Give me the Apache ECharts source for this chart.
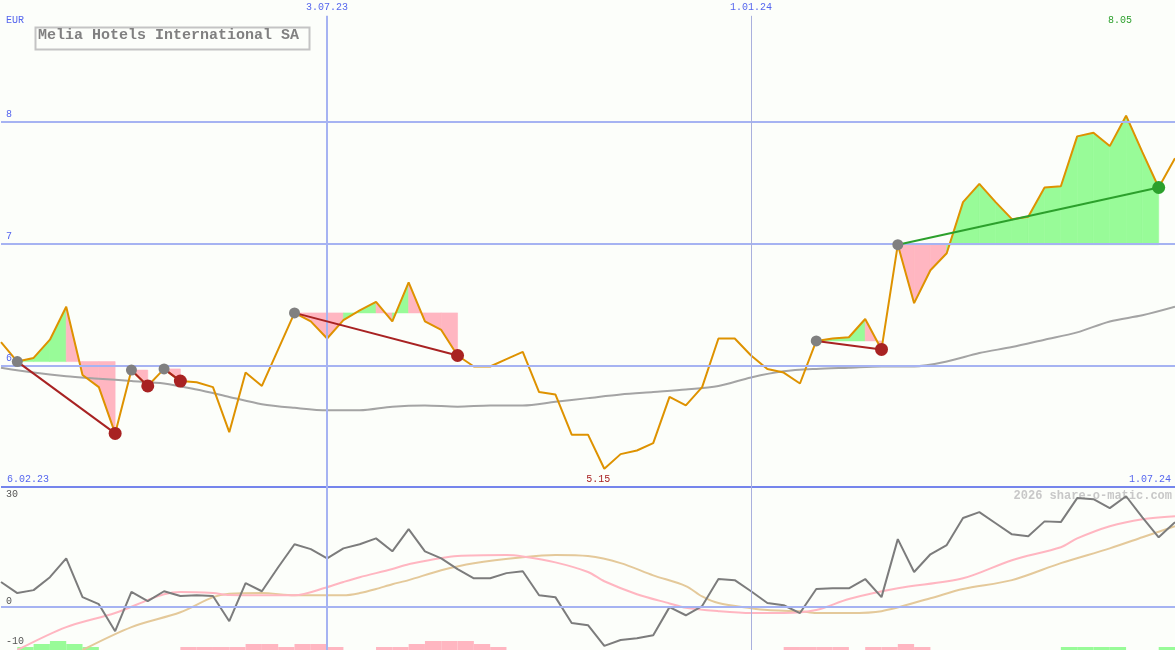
<!DOCTYPE html>
<html><head><meta charset="utf-8">
<script src="https://cdn.jsdelivr.net/npm/echarts@6/dist/echarts.min.js"></script>
<style>html,body{margin:0;padding:0;background:#fcfefa}#c{width:1175px;height:650px}</style>
</head><body><div id="c"></div>
<script>
// ---------- DATA ----------
const title = 'Melia Hotels International SA';
const currency = 'EUR';
const watermark = '2026 share-o-matic.com';
const startLabel = '6.02.23';
const endLabel = '1.07.24';
const dateMarkIdx = [20, 46];
const dateMarkLabels = ['3.07.23', '1.01.24'];
const priceTicks = [6, 7, 8];
const oscTicks = [30, 0, -10];

// weekly closes (index 0 .. 72)
const price = [6.19, 6.03, 6.06, 6.21, 6.48, 5.92, 5.82, 5.44, 5.96, 5.83,
  5.97, 5.87, 5.86, 5.82, 5.45, 5.94, 5.83, 6.13, 6.43, 6.36,
  6.22, 6.37, 6.45, 6.52, 6.36, 6.68, 6.36, 6.29, 6.08, 5.99,
  5.99, 6.05, 6.11, 5.78, 5.76, 5.43, 5.43, 5.15, 5.27, 5.30,
  5.36, 5.74, 5.67, 5.82, 6.22, 6.22, 6.08, 5.97, 5.94, 5.85,
  6.20, 6.22, 6.23, 6.38, 6.13, 6.99, 6.51, 6.78, 6.92, 7.34,
  7.49, 7.34, 7.20, 7.22, 7.46, 7.47, 7.88, 7.91, 7.80, 8.05,
  7.75, 7.46, 7.70];

// long moving average [index, value]
const priceMA = [[0, 5.98], [2, 5.94], [4, 5.91], [6, 5.89], [8, 5.87], [10, 5.85], [12, 5.80],
  [14, 5.74], [16, 5.68], [18, 5.65], [20, 5.63], [22, 5.63], [24, 5.66], [26, 5.67],
  [28, 5.66], [30, 5.67], [32, 5.67], [34, 5.70], [36, 5.73], [38, 5.76], [40, 5.78],
  [42, 5.80], [44, 5.83], [46, 5.90], [48, 5.95], [50, 5.97], [52, 5.98], [54, 5.99],
  [56, 5.99], [58, 6.03], [60, 6.10], [62, 6.15], [64, 6.21], [66, 6.27], [68, 6.36],
  [70, 6.41], [72, 6.48]];

// trades (entry / exit week index)
const entryIdx = [1, 8, 10, 18, 50, 55];
const exitIdx = [7, 9, 11, 28, 54, 71];

// lower panel oscillator
const osc = [6.8, 3.8, 4.6, 8.1, 13.2, 2.7, 0.8, -6.5, 4.1, 1.6,
  4.3, 3.0, 3.2, 3.0, -3.8, 6.5, 4.3, 10.8, 17.0, 15.7,
  13.2, 15.9, 17.0, 18.6, 15.1, 21.1, 15.1, 13.2, 10.3, 7.8,
  7.8, 9.2, 9.7, 3.2, 2.7, -4.3, -4.9, -10.5, -8.9, -8.4,
  -7.6, 0.0, -2.2, 0.3, 7.6, 7.3, 4.3, 1.1, 0.5, -1.6,
  4.9, 5.1, 5.1, 7.6, 2.7, 18.4, 9.5, 14.3, 16.8, 24.1,
  25.7, 22.7, 19.7, 19.2, 23.2, 23.0, 29.5, 29.2, 26.8, 30.0,
  24.3, 18.9, 23.0];
const oscPink = [[1, -11.6], [4, -5.4], [7, -1.6], [9, 1.9], [10, 3.5], [11, 4.1], [13, 3.8],
  [14, 3.3], [18, 3.2], [20, 5.4], [21, 6.8], [22, 8.1], [24, 10.3], [25, 11.6], [28, 13.8],
  [31, 14.1], [32, 13.7], [34, 12.1], [36, 9.5], [37, 7.0], [39, 3.5], [41, 1.0], [42, -0.2],
  [44, -1.1], [46, -1.6], [48, -1.6], [50, -0.8], [52, 2.2], [55, 5.1], [59, 7.8], [62, 12.7],
  [65, 16.2], [66, 18.6], [68, 21.9], [70, 23.8], [72, 24.6]];
const oscTan = [[5, -11.6], [8, -5.4], [11, -1.4], [13, 2.7], [14, 3.6], [16, 3.8], [18, 3.2],
  [21, 3.2], [22, 3.8], [23, 4.9], [24, 6.2], [25, 7.3], [27, 10.0], [29, 11.9], [32, 13.5],
  [34, 14.1], [36, 13.8], [38, 11.9], [40, 8.6], [42, 5.7], [43, 2.9], [44, 1.1], [46, -0.3],
  [47, -0.8], [49, -1.1], [50, -1.6], [52, -1.6], [54, -1.1], [57, 2.4], [59, 4.9], [62, 7.3],
  [65, 11.9], [68, 15.9], [70, 18.9], [72, 21.9]];

// bottom histogram [week index, level]
const greenBars = [[1, 1], [2, 2], [3, 3], [4, 2], [5, 1], [65, 1], [66, 1], [67, 1], [68, 1], [71, 1]];
const pinkBars = [[11, 1], [12, 1], [13, 1], [14, 1], [15, 2], [16, 2], [17, 1], [18, 2], [19, 2], [20, 1],
  [23, 1], [24, 1], [25, 2], [26, 3], [27, 3], [28, 3], [29, 2], [30, 1],
  [48, 1], [49, 1], [50, 1], [51, 1], [53, 1], [54, 1], [55, 2], [56, 1]];

// ---------- STYLE ----------
const FONT = 'Liberation Mono';
const BLUE_TXT = '#5566ee';
const GRID_C = '#a6b3f2';
const SEP_C = '#7585ec';
const ORANGE = '#de9200';
const PALEGREEN = '#98fb98';
const LIGHTPINK = '#ffb6c1';
const RED = '#a82222';
const GREEN = '#2ca02c';

const xMax = price.length - 1;
const pricePts = price.map((v, i) => [i, v]);
const oscPts = osc.map((v, i) => [i, v]);

const fillSegs = [], tradeLines = [], entryPts = [], exitPts = [];
entryIdx.forEach((e, k) => {
  const x = exitIdx[k], base = price[e], win = price[x] > base;
  for (let i = e; i < x; i++) fillSegs.push([i, price[i], price[i + 1], base, price[i + 1] >= base ? 1 : 0]);
  tradeLines.push({ coords: [[e, base], [x, price[x]]], lineStyle: { color: win ? GREEN : RED } });
  entryPts.push([e, base]);
  exitPts.push({ value: [x, price[x]], itemStyle: { color: win ? GREEN : RED } });
});
let maxI = 0, minI = 0;
price.forEach((v, i) => { if (v > price[maxI]) maxI = i; if (v < price[minI]) minI = i; });

const txt = (c, s) => ({ color: c, fontFamily: FONT, fontSize: s || 10, textBorderWidth: 0 });

const chart = echarts.init(document.getElementById('c'));
const barRender = color => (params, api) => {
  const a = api.coord([api.value(0), api.value(1)]);
  const b = api.coord([api.value(0) + 1, 0]);
  return { type: 'rect', shape: { x: a[0], y: a[1], width: b[0] - a[0], height: b[1] - a[1] }, style: { fill: color } };
};

chart.setOption({
  animation: false,
  backgroundColor: '#fcfefa',
  grid: [
    { left: 1, right: 0, top: 0, height: 487 },
    { left: 1, right: 0, top: 487, height: 163 }
  ],
  xAxis: [
    { gridIndex: 0, type: 'value', min: 0, max: xMax, interval: xMax,
      axisLine: { show: false }, axisTick: { show: false }, splitLine: { show: false },
      axisLabel: Object.assign(txt(BLUE_TXT), { inside: true, margin: 3,
        alignMinLabel: 'left', alignMaxLabel: 'right', padding: [0, 4, 0, 6],
        formatter: v => v === 0 ? startLabel : (v === xMax ? endLabel : '') }) },
    { gridIndex: 1, type: 'value', min: 0, max: xMax, show: false }
  ],
  yAxis: [
    { gridIndex: 0, type: 'value', min: 5, max: 9, show: false },
    { gridIndex: 1, type: 'value', min: -11.6, max: 32.5, show: false },
    { gridIndex: 1, type: 'value', min: 0, max: 54.33, show: false }
  ],
  graphic: [
    { type: 'text', left: 6, top: 15, style: { text: currency, fill: BLUE_TXT, font: '10px ' + FONT } },
    { type: 'rect', left: 33, top: 25, shape: { width: 274, height: 22 }, style: { fill: 'none', stroke: '#c4c4c4', lineWidth: 2 } },
    { type: 'text', left: 38, top: 28, style: { text: title, fill: '#808080', font: 'bold 15px ' + FONT } },
    { type: 'text', right: 3, top: 490, style: { text: watermark, fill: '#c8c8c8', font: 'bold 12px ' + FONT } }
  ],
  series: [
    // main-panel grid lines and tick labels
    { type: 'line', xAxisIndex: 0, yAxisIndex: 0, data: pricePts, z: 1, silent: true, showSymbol: false,
      lineStyle: { opacity: 0 },
      markLine: { silent: true, symbol: ['none', 'none'], animation: false,
        data: priceTicks.map(t => ({ yAxis: t, lineStyle: { color: GRID_C, width: 2, type: 'solid' },
          label: Object.assign(txt(BLUE_TXT), { position: 'insideStartTop', distance: [5, 2], formatter: String(t) }) }))
          .concat([{ yAxis: 5, lineStyle: { color: SEP_C, width: 2, type: 'solid' }, label: { show: false } }])
          .concat(dateMarkIdx.map((d, k) => [
            { coord: [d, 5], lineStyle: { color: k === 0 ? GRID_C : '#a9b0dd', width: k === 0 ? 2 : 1, type: 'solid' },
              label: Object.assign(txt(BLUE_TXT), { show: true, position: 'end', distance: 3, formatter: dateMarkLabels[k] }) },
            { coord: [d, 8.87] }
          ]))
      }
    },
    // gain / loss fills
    { type: 'custom', xAxisIndex: 0, yAxisIndex: 0, z: 2, data: fillSegs, encode: { x: 0, y: 1 },
      renderItem: (params, api) => {
        const i = api.value(0), a = api.value(1), b = api.value(2), base = api.value(3), up = api.value(4);
        const pts = [api.coord([i, base]), api.coord([i, a]), api.coord([i + 1, b]), api.coord([i + 1, base])];
        const col = up ? PALEGREEN : LIGHTPINK;
        return { type: 'polygon', shape: { points: pts }, style: { fill: col, stroke: col, lineWidth: 0.6 } };
      } },
    // moving average
    { type: 'line', xAxisIndex: 0, yAxisIndex: 0, z: 3, data: priceMA, smooth: 0.3, showSymbol: false,
      lineStyle: { color: '#a4a4a4', width: 2 } },
    // price
    { type: 'line', xAxisIndex: 0, yAxisIndex: 0, z: 4, data: pricePts, showSymbol: false,
      lineStyle: { color: ORANGE, width: 2 },
      markPoint: { symbolSize: 0, animation: false,
        data: [
          { coord: [maxI, 8.836], value: price[maxI], label: Object.assign(txt(GREEN), { show: true, position: 'inside', offset: [-6, 0], formatter: p => p.value.toFixed(2) }) },
          { coord: [minI, 5.066], value: price[minI], label: Object.assign(txt(RED), { show: true, position: 'inside', offset: [-6, 0], formatter: p => p.value.toFixed(2) }) }
        ] } },
    // trade connectors
    { type: 'lines', coordinateSystem: 'cartesian2d', xAxisIndex: 0, yAxisIndex: 0, z: 5, data: tradeLines,
      lineStyle: { width: 2, opacity: 1 } },
    // entry / exit markers
    { type: 'scatter', xAxisIndex: 0, yAxisIndex: 0, z: 6, data: entryPts, symbolSize: 11,
      itemStyle: { color: '#808080', opacity: 1 } },
    { type: 'scatter', xAxisIndex: 0, yAxisIndex: 0, z: 6, data: exitPts, symbolSize: 13,
      itemStyle: { opacity: 1 } },

    // lower panel grid lines and labels
    { type: 'line', xAxisIndex: 1, yAxisIndex: 1, data: oscPts, z: 1, silent: true, showSymbol: false,
      lineStyle: { opacity: 0 },
      markLine: { silent: true, symbol: ['none', 'none'], animation: false,
        data: oscTicks.map(t => ({ yAxis: t,
          lineStyle: { color: t === 0 ? GRID_C : 'rgba(0,0,0,0)', width: 2, type: 'solid' },
          label: Object.assign(txt('#555555'), { show: true, position: 'insideStartTop', distance: [5, 1], offset: [0, t === 30 ? 4 : (t === -10 ? 3 : 0)], formatter: String(t) }) }))
          .concat(dateMarkIdx.map((d, k) => ({ xAxis: d,
            lineStyle: { color: k === 0 ? GRID_C : '#a9b0dd', width: k === 0 ? 2 : 1, type: 'solid' }, label: { show: false } })))
      }
    },
    { type: 'custom', xAxisIndex: 1, yAxisIndex: 2, z: 2, data: greenBars, encode: { x: 0, y: 1 }, renderItem: barRender(PALEGREEN) },
    { type: 'custom', xAxisIndex: 1, yAxisIndex: 2, z: 2, data: pinkBars, encode: { x: 0, y: 1 }, renderItem: barRender(LIGHTPINK) },
    { type: 'line', xAxisIndex: 1, yAxisIndex: 1, z: 3, data: oscTan, smooth: 0.3, showSymbol: false,
      lineStyle: { color: '#e4c99a', width: 2 } },
    { type: 'line', xAxisIndex: 1, yAxisIndex: 1, z: 3, data: oscPink, smooth: 0.3, showSymbol: false,
      lineStyle: { color: LIGHTPINK, width: 2 } },
    { type: 'line', xAxisIndex: 1, yAxisIndex: 1, z: 4, data: oscPts, showSymbol: false,
      lineStyle: { color: '#7c7c7c', width: 2 } }
  ]
});
</script>
</body></html>
